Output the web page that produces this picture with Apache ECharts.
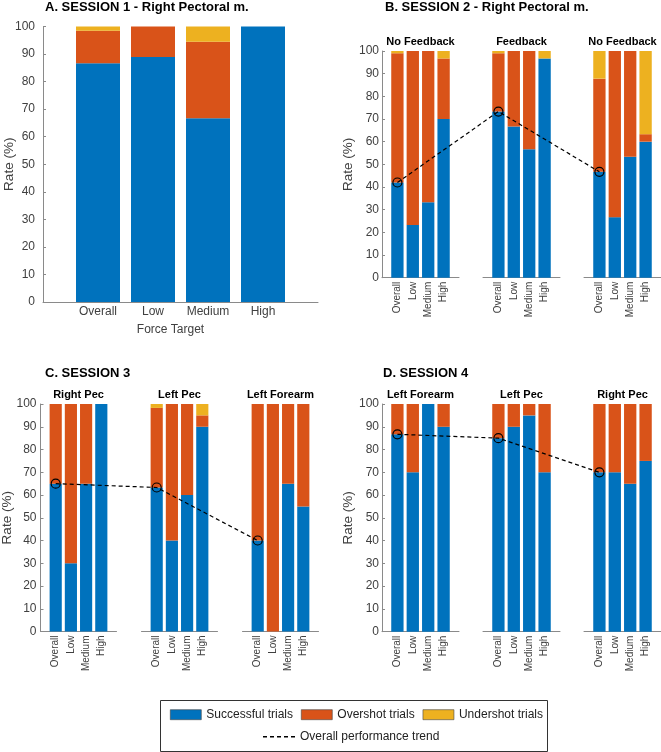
<!DOCTYPE html>
<html>
<head>
<meta charset="utf-8">
<script src="https://cdn.jsdelivr.net/npm/echarts@6/dist/echarts.min.js"></script>
<style>
html,body{margin:0;padding:0;background:#fff;}
#chart{width:661px;height:752px;}
</style>
</head>
<body>
<div id="chart"></div>
<script>
// ---------- DATA ----------
const forceTargets = ['Overall', 'Low', 'Medium', 'High'];
const seriesNames = ['Successful trials', 'Overshot trials', 'Undershot trials'];
const trendName = 'Overall performance trend';

// Session 1 (single group)
const s1Success   = [86.7, 88.9, 66.7, 100];
const s1Overshot  = [11.8, 11.1, 27.8, 0];
const s1Undershot = [1.5, 0, 5.5, 0];

// Session 2
const s2Groups    = ['No Feedback', 'Feedback', 'No Feedback'];
const s2Success   = [[42, 23.3, 33.3, 70], [73.3, 66.7, 56.7, 96.7], [46.7, 26.7, 53.3, 60]];
const s2Overshot  = [[57, 76.7, 66.7, 26.7], [25.7, 33.3, 43.3, 0], [41.1, 73.3, 46.7, 3.3]];
const s2Undershot = [[1, 0, 0, 3.3], [1, 0, 0, 3.3], [12.2, 0, 0, 36.7]];

// Session 3
const s3Groups    = ['Right Pec', 'Left Pec', 'Left Forearm'];
const s3Success   = [[65, 30, 65, 100], [63.3, 40, 60, 90], [40, 0, 65, 55]];
const s3Overshot  = [[35, 70, 35, 0], [35, 60, 40, 5], [60, 100, 35, 45]];
const s3Undershot = [[0, 0, 0, 0], [1.7, 0, 0, 5], [0, 0, 0, 0]];

// Session 4
const s4Groups    = ['Left Forearm', 'Left Pec', 'Right Pec'];
const s4Success   = [[86.7, 70, 100, 90], [85, 90, 95, 70], [70, 70, 65, 75]];
const s4Overshot  = [[13.3, 30, 0, 10], [15, 10, 5, 30], [30, 30, 35, 25]];
const s4Undershot = [[0, 0, 0, 0], [0, 0, 0, 0], [0, 0, 0, 0]];

// ---------- STYLE / LAYOUT ----------
const FONT = '"Liberation Sans", Arial, sans-serif';
const colors = ['#0072BD', '#D95319', '#EDB120'];
const axisColor = '#8a8a8a';
const labelColor = '#404040';

// category slots: empty slot at each end so that the axis spans 0..5
const slots = [''].concat(forceTargets, ['']);

const panels = [
  { title: 'A. SESSION 1 - Right Pectoral m.', titleX: 45, titleY: 7,
    top: 26.5, height: 275.5, lefts: [43], width: 275,
    groups: [null], success: [s1Success], over: [s1Overshot], under: [s1Undershot],
    rotate: 0, xFont: 12, xMargin: 4, yMargin: 8, yNameGap: 27, xName: 'Force Target', trend: false },
  { title: 'B. SESSION 2 - Right Pectoral m.', titleX: 385, titleY: 7,
    top: 51, height: 226.7, lefts: [382, 483, 584], width: 77,
    groups: s2Groups, success: s2Success, over: s2Overshot, under: s2Undershot,
    rotate: 90, xFont: 10, xMargin: 4, yMargin: 3, yNameGap: 27, trend: true },
  { title: 'C. SESSION 3', titleX: 45, titleY: 373,
    top: 404, height: 227.5, lefts: [40.5, 141.5, 242.5], width: 76,
    groups: s3Groups, success: s3Success, over: s3Overshot, under: s3Undershot,
    rotate: 90, xFont: 10, xMargin: 4, yMargin: 4, yNameGap: 26.5, trend: true },
  { title: 'D. SESSION 4', titleX: 383, titleY: 373,
    top: 404, height: 227.7, lefts: [382, 483, 584], width: 77,
    groups: s4Groups, success: s4Success, over: s4Overshot, under: s4Undershot,
    rotate: 90, xFont: 10, xMargin: 4, yMargin: 3, yNameGap: 27, trend: true }
];

const grid = [], xAxis = [], yAxis = [], series = [], title = [];
let gi = 0;

panels.forEach(p => {
  title.push({ text: p.title, left: p.titleX, top: p.titleY, padding: 0,
    textVerticalAlign: 'middle',
    textStyle: { fontFamily: FONT, fontSize: 13, fontWeight: 'bold', color: '#000' } });

  p.lefts.forEach((left, j) => {
    grid.push({ left: left, top: p.top, width: p.width, height: p.height,
      containLabel: false, outerBoundsMode: 'none' });
    xAxis.push({
      gridIndex: gi, type: 'category', data: slots, boundaryGap: false,
      axisLine: { show: true, onZero: false, lineStyle: { color: axisColor, width: 1 } },
      axisTick: { show: false }, splitLine: { show: false },
      axisLabel: { rotate: p.rotate, interval: 0, fontFamily: FONT, fontSize: p.xFont, color: labelColor,
        margin: p.xMargin, showMinLabel: true, showMaxLabel: true, hideOverlap: false },
      name: p.xName || '', nameLocation: 'middle', nameGap: 22, nameMoveOverlap: false,
      nameTextStyle: { fontFamily: FONT, fontSize: 12, color: labelColor, padding: [0, 20, 0, 0] }
    });
    const first = j === 0;
    yAxis.push({
      gridIndex: gi, type: 'value', min: 0, max: 100, interval: 10, show: first,
      axisLine: { show: true, lineStyle: { color: axisColor, width: 1 } },
      axisTick: { show: true, inside: true, length: 3, lineStyle: { color: axisColor } },
      splitLine: { show: false },
      axisLabel: { fontFamily: FONT, fontSize: 12, color: labelColor, margin: p.yMargin },
      name: first ? 'Rate (%)' : '', nameLocation: 'middle', nameGap: p.yNameGap,
      nameMoveOverlap: false,
      nameTextStyle: { fontFamily: FONT, fontSize: 13.5, color: labelColor }
    });
    if (p.groups[j]) {
      title.push({ text: p.groups[j], left: left + p.width / 2, top: p.top - 9, padding: 0,
        textAlign: 'center', textVerticalAlign: 'middle',
        textStyle: { fontFamily: FONT, fontSize: 11, fontWeight: 'bold', color: '#000' } });
    }
    const layers = [p.success[j], p.over[j], p.under[j]];
    layers.forEach((vals, k) => {
      series.push({
        type: 'bar', name: seriesNames[k], xAxisIndex: gi, yAxisIndex: gi,
        stack: 'stack' + gi, barWidth: p.width / 5 * 0.8,
        data: vals.map((v, i) => [i + 1, v]),
        itemStyle: { color: colors[k] },
        emphasis: { disabled: true }
      });
    });
    gi++;
  });

  if (p.trend) {
    const unit = p.width / 5;
    const span = p.lefts[p.lefts.length - 1] + p.width - p.lefts[0];
    grid.push({ left: p.lefts[0], top: p.top, width: span, height: p.height,
      containLabel: false, outerBoundsMode: 'none' });
    xAxis.push({ gridIndex: gi, type: 'value', min: 0, max: span / unit, show: false });
    yAxis.push({ gridIndex: gi, type: 'value', min: 0, max: 100, show: false });
    series.push({
      type: 'line', name: trendName, xAxisIndex: gi, yAxisIndex: gi, z: 10,
      data: p.success.map((g, j) => [(p.lefts[j] - p.lefts[0]) / unit + 1, g[0]]),
      lineStyle: { color: '#000', width: 1.2, type: [4, 3] },
      symbol: 'circle', symbolSize: 9,
      itemStyle: { color: 'rgba(0,0,0,0)', borderColor: '#000', borderWidth: 1.2 },
      emphasis: { disabled: true }
    });
    gi++;
  }
});

const dashIcon = 'path://M0,0h4v1h-4zM7,0h4v1h-4zM14,0h4v1h-4zM21,0h4v1h-4zM28,0h4v1h-4z';

const option = {
  animation: false,
  backgroundColor: '#fff',
  title: title,
  grid: grid,
  xAxis: xAxis,
  yAxis: yAxis,
  series: series,
  legend: [
    { data: seriesNames, left: 170, top: 708.7, padding: 0, orient: 'horizontal',
      icon: 'rect', itemWidth: 31, itemHeight: 10, itemGap: 8,
      itemStyle: { borderColor: '#444', borderWidth: 0.6 },
      textStyle: { fontFamily: FONT, fontSize: 12, color: '#222' } },
    { data: [{ name: trendName, icon: dashIcon, itemStyle: { color: '#000', borderWidth: 0 } }],
      left: 263, top: 730.7, padding: 0, symbolKeepAspect: false,
      itemWidth: 32, itemHeight: 1.5,
      textStyle: { fontFamily: FONT, fontSize: 12, color: '#222' } }
  ],
  graphic: [
    { type: 'rect', shape: { x: 160.5, y: 700.5, width: 387, height: 51 },
      style: { fill: 'none', stroke: '#333', lineWidth: 1 }, z: -1, silent: true }
  ]
};

const chart = echarts.init(document.getElementById('chart'), null, { renderer: 'canvas' });
chart.setOption(option);
</script>
</body>
</html>
